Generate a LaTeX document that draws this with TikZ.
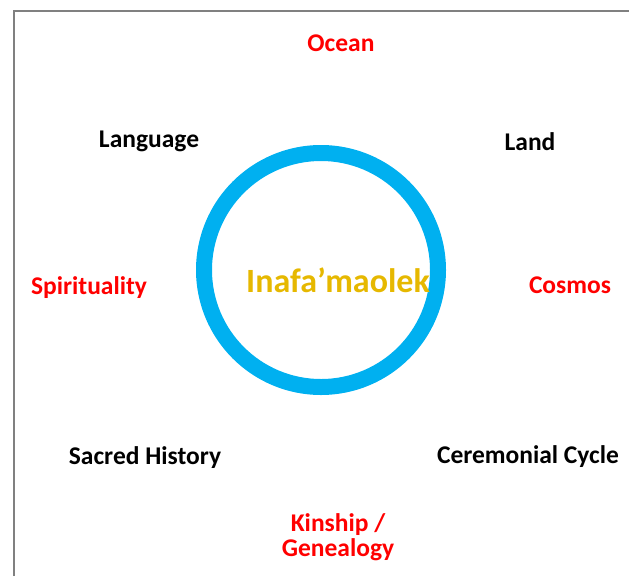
\documentclass[tikz,border=0pt]{standalone}
\usepackage{fontspec}
\setmainfont{Carlito}
\definecolor{ringblue}{HTML}{00B0F0}
\definecolor{gold}{HTML}{E6B800}
\definecolor{lbred}{HTML}{FF0000}
\begin{document}
\begin{tikzpicture}[x=1pt,y=-1pt,
  lbl/.style={font=\bfseries\fontsize{25.5}{29}\selectfont, anchor=base, inner sep=0pt},
  redlbl/.style={lbl, text=lbred},
  blklbl/.style={lbl, text=black}]
\useasboundingbox (0,0) rectangle (629,576);
\draw[gray, line width=1.5pt] (14,576) -- (14,11) -- (629,11);
\node[circle, draw=ringblue, line width=16pt, minimum size=234pt, inner sep=0pt] (ring) at (321,270) {};
\node[anchor=base, inner sep=0pt, text=gold, font=\bfseries\fontsize{34}{40}\selectfont] (center) at (338,292) {Inafa’maolek};
\node[redlbl] (ocean) at (341,51) {Ocean};
\node[blklbl] (language) at (149,147) {Language};
\node[blklbl] (land) at (530,150) {Land};
\node[redlbl] (spirit) at (89,294) {Spirituality};
\node[redlbl] (cosmos) at (570,293) {Cosmos};
\node[blklbl] (sacred) at (145,464) {Sacred History};
\node[blklbl] (ceremonial) at (528,463) {Ceremonial Cycle};
\node[redlbl, align=center, font=\bfseries\fontsize{25.5}{24.5}\selectfont] (kinship) at (338,556) {Kinship /\\Genealogy};
\end{tikzpicture}
\end{document}
